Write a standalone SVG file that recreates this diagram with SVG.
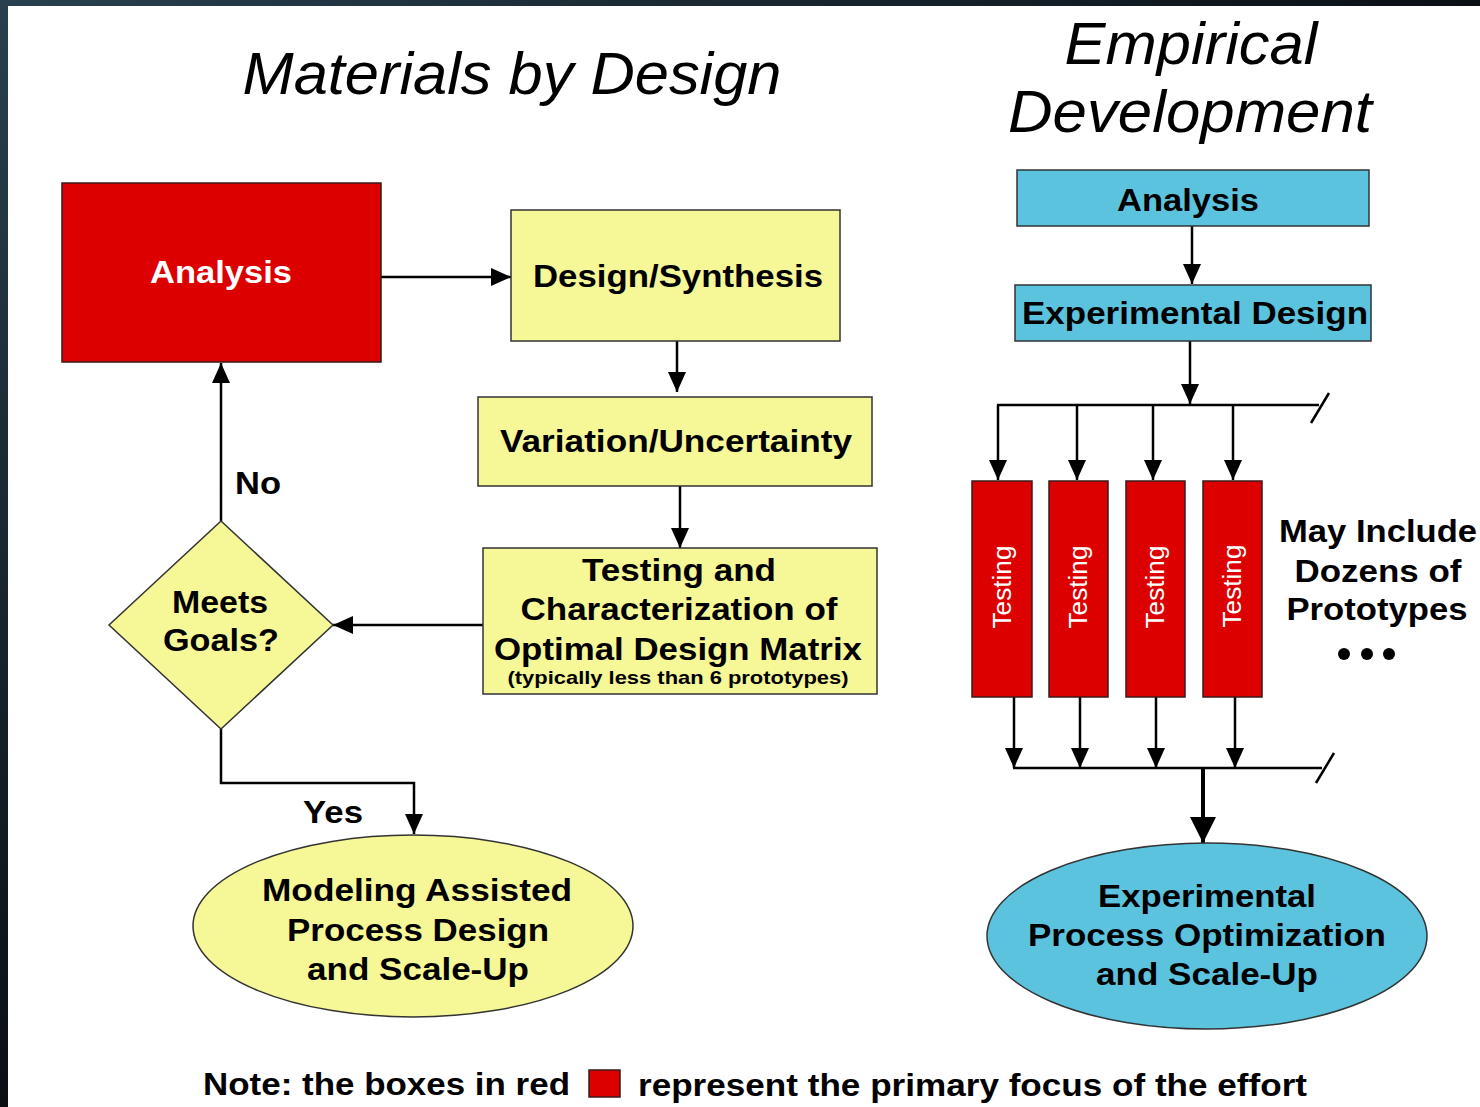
<svg xmlns="http://www.w3.org/2000/svg" width="1480" height="1107" viewBox="0 0 1480 1107">
<defs>
<linearGradient id="bg" x1="0" y1="0" x2="1" y2="1">
<stop offset="0" stop-color="#28404f"/>
<stop offset="0.5" stop-color="#0a0f14"/>
<stop offset="1" stop-color="#000"/>
</linearGradient>
<marker id="ah" viewBox="0 0 20 20" refX="20" refY="10" markerWidth="20" markerHeight="20" markerUnits="userSpaceOnUse" orient="auto">
<path d="M0,1 L20,10 L0,19 Z" fill="#000"/>
</marker>
<marker id="ahb" viewBox="0 0 26 26" refX="26" refY="13" markerWidth="26" markerHeight="26" markerUnits="userSpaceOnUse" orient="auto">
<path d="M0,0 L26,13 L0,26 Z" fill="#000"/>
</marker>
</defs>
<style>
.t{font-family:"Liberation Sans",Arial,sans-serif;font-weight:bold;font-size:32px;fill:#000;text-anchor:middle}
.w{fill:#fff}
.ti{font-family:"Liberation Sans",Arial,sans-serif;font-style:italic;font-size:60px;fill:#000;text-anchor:middle}
.red{fill:#dd0000;stroke:#3a1a1a;stroke-width:1.5}
.yel{fill:#f6f797;stroke:#333;stroke-width:1.5}
.blu{fill:#5bc3de;stroke:#333;stroke-width:1.5}
.c{fill:none;stroke:#000;stroke-width:2.5}
.tv{font-family:"Liberation Sans",Arial,sans-serif;font-size:25px;fill:#fff;text-anchor:middle}
</style>
<rect x="0" y="0" width="1480" height="1107" fill="url(#bg)"/>
<rect x="8" y="6" width="1472" height="1101" fill="#fff"/>

<g id="titles">
<text class="ti" x="512" y="94" textLength="539" lengthAdjust="spacingAndGlyphs">Materials by Design</text>
<text class="ti" x="1191" y="64" textLength="253" lengthAdjust="spacingAndGlyphs">Empirical</text>
<text class="ti" x="1190" y="132" textLength="364" lengthAdjust="spacingAndGlyphs">Development</text>
</g>

<g id="connectors">
<line class="c" x1="381" y1="277" x2="511" y2="277" marker-end="url(#ah)"/>
<line class="c" x1="677" y1="341" x2="677" y2="392" marker-end="url(#ah)"/>
<line class="c" x1="680" y1="486" x2="680" y2="548" marker-end="url(#ah)"/>
<line class="c" x1="483" y1="625" x2="333" y2="625" marker-end="url(#ah)"/>
<line class="c" x1="221" y1="521" x2="221" y2="363" marker-end="url(#ah)"/>
<polyline class="c" points="221,729 221,783 414,783 414,834" marker-end="url(#ah)"/>
<line class="c" x1="1192" y1="226" x2="1192" y2="284" marker-end="url(#ah)"/>
<line class="c" x1="1190" y1="341" x2="1190" y2="404" marker-end="url(#ah)"/>
<line class="c" x1="997" y1="405" x2="1319" y2="405"/>
<line class="c" x1="1311" y1="423" x2="1329" y2="393"/>
<polyline class="c" points="998,405 998,480" marker-end="url(#ah)"/>
<line class="c" x1="1077" y1="405" x2="1077" y2="480" marker-end="url(#ah)"/>
<line class="c" x1="1153" y1="405" x2="1153" y2="480" marker-end="url(#ah)"/>
<line class="c" x1="1233" y1="405" x2="1233" y2="480" marker-end="url(#ah)"/>
<line class="c" x1="1014" y1="697" x2="1014" y2="768" marker-end="url(#ah)"/>
<line class="c" x1="1080" y1="697" x2="1080" y2="768" marker-end="url(#ah)"/>
<line class="c" x1="1156" y1="697" x2="1156" y2="768" marker-end="url(#ah)"/>
<line class="c" x1="1235" y1="697" x2="1235" y2="768" marker-end="url(#ah)"/>
<line class="c" x1="1013" y1="768" x2="1322" y2="768"/>
<line class="c" x1="1316" y1="783" x2="1334" y2="753"/>
<line x1="1203" y1="768" x2="1203" y2="843" stroke="#000" stroke-width="4" marker-end="url(#ahb)"/>
</g>

<g id="analysis-left">
<rect class="red" x="62" y="183" width="319" height="179"/>
<text class="t w" x="221" y="283" textLength="142" lengthAdjust="spacingAndGlyphs">Analysis</text>
</g>
<g id="design-synthesis">
<rect class="yel" x="511" y="210" width="329" height="131"/>
<text class="t" x="678" y="287" textLength="290" lengthAdjust="spacingAndGlyphs">Design/Synthesis</text>
</g>
<g id="variation">
<rect class="yel" x="478" y="397" width="394" height="89"/>
<text class="t" x="676" y="452" textLength="352" lengthAdjust="spacingAndGlyphs">Variation/Uncertainty</text>
</g>
<g id="testing-characterization">
<rect class="yel" x="483" y="548" width="394" height="146"/>
<text class="t" x="679" y="581" textLength="194" lengthAdjust="spacingAndGlyphs">Testing and</text>
<text class="t" x="679" y="620" textLength="317" lengthAdjust="spacingAndGlyphs">Characterization of</text>
<text class="t" x="678" y="660" textLength="368" lengthAdjust="spacingAndGlyphs">Optimal Design Matrix</text>
<text class="t" x="678" y="684" style="font-size:19px" textLength="341" lengthAdjust="spacingAndGlyphs">(typically less than 6 prototypes)</text>
</g>
<g id="meets-goals">
<polygon class="yel" points="221,521 333,625 221,729 109,625"/>
<text class="t" x="220" y="613" textLength="96" lengthAdjust="spacingAndGlyphs">Meets</text>
<text class="t" x="221" y="651" textLength="116" lengthAdjust="spacingAndGlyphs">Goals?</text>
</g>
<g id="labels">
<text class="t" x="258" y="494" textLength="46" lengthAdjust="spacingAndGlyphs">No</text>
<text class="t" x="333" y="823" textLength="60" lengthAdjust="spacingAndGlyphs">Yes</text>
</g>
<g id="modeling">
<ellipse class="yel" cx="413" cy="926" rx="220" ry="91"/>
<text class="t" x="417" y="901" textLength="310" lengthAdjust="spacingAndGlyphs">Modeling Assisted</text>
<text class="t" x="418" y="941" textLength="262" lengthAdjust="spacingAndGlyphs">Process Design</text>
<text class="t" x="418" y="980" textLength="222" lengthAdjust="spacingAndGlyphs">and Scale-Up</text>
</g>

<g id="analysis-right">
<rect class="blu" x="1017" y="170" width="352" height="56"/>
<text class="t" x="1188" y="211" textLength="142" lengthAdjust="spacingAndGlyphs">Analysis</text>
</g>
<g id="experimental-design">
<rect class="blu" x="1015" y="285" width="356" height="56"/>
<text class="t" x="1195" y="324" textLength="346" lengthAdjust="spacingAndGlyphs">Experimental Design</text>
</g>
<g id="testing-1">
<rect class="red" x="972" y="481" width="60" height="216"/>
<text class="tv" transform="translate(1011,587) rotate(-90)" textLength="83" lengthAdjust="spacingAndGlyphs">Testing</text>
</g>
<g id="testing-2">
<rect class="red" x="1049" y="481" width="59" height="216"/>
<text class="tv" transform="translate(1087,587) rotate(-90)" textLength="83" lengthAdjust="spacingAndGlyphs">Testing</text>
</g>
<g id="testing-3">
<rect class="red" x="1126" y="481" width="59" height="216"/>
<text class="tv" transform="translate(1164,587) rotate(-90)" textLength="83" lengthAdjust="spacingAndGlyphs">Testing</text>
</g>
<g id="testing-4">
<rect class="red" x="1203" y="481" width="59" height="216"/>
<text class="tv" transform="translate(1241,586) rotate(-90)" textLength="83" lengthAdjust="spacingAndGlyphs">Testing</text>
</g>
<g id="prototypes-note">
<text class="t" x="1378" y="542" textLength="198" lengthAdjust="spacingAndGlyphs">May Include</text>
<text class="t" x="1378" y="582" textLength="167" lengthAdjust="spacingAndGlyphs">Dozens of</text>
<text class="t" x="1377" y="620" textLength="181" lengthAdjust="spacingAndGlyphs">Prototypes</text>
<circle cx="1344" cy="654" r="6" fill="#000"/>
<circle cx="1367" cy="654" r="6" fill="#000"/>
<circle cx="1389" cy="654" r="6" fill="#000"/>
</g>
<g id="experimental-process">
<ellipse class="blu" cx="1207" cy="936" rx="220" ry="93"/>
<text class="t" x="1207" y="907" textLength="218" lengthAdjust="spacingAndGlyphs">Experimental</text>
<text class="t" x="1207" y="946" textLength="358" lengthAdjust="spacingAndGlyphs">Process Optimization</text>
<text class="t" x="1207" y="985" textLength="222" lengthAdjust="spacingAndGlyphs">and Scale-Up</text>
</g>

<g id="legend">
<text class="t" x="203" y="1095" style="text-anchor:start" textLength="367" lengthAdjust="spacingAndGlyphs">Note: the boxes in red</text>
<rect class="red" x="589" y="1070" width="31" height="27"/>
<text class="t" x="638" y="1096" style="text-anchor:start" textLength="669" lengthAdjust="spacingAndGlyphs">represent the primary focus of the effort</text>
</g>
</svg>
